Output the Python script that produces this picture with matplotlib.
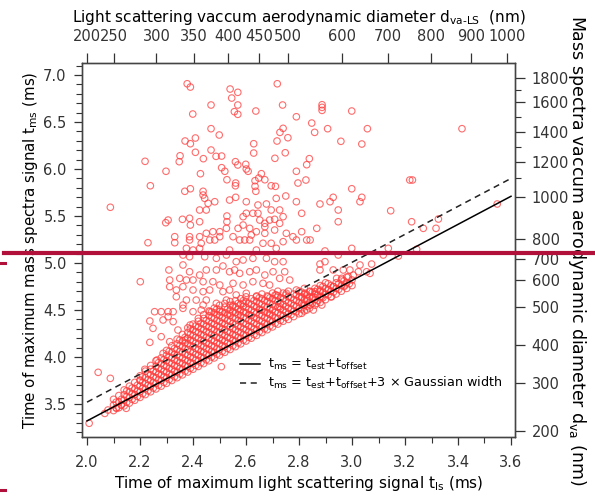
import matplotlib
matplotlib.use('Agg')
import matplotlib.pyplot as plt
from matplotlib.lines import Line2D

plt.rcParams['font.family'] = ['DejaVu Sans']
plt.rcParams['mathtext.default'] = 'regular'

# scattered particles (t_ls, t_ms)
cloud_ls = [2.378, 2.390, 2.540, 2.569, 2.718, 2.546, 2.569, 2.468, 2.738, 2.556, 2.569, 2.637, 2.399, 2.790,
            2.468, 2.499, 2.740, 2.728, 2.758, 2.717, 2.370, 2.390, 2.409, 2.629, 2.629, 2.468, 2.409, 2.487,
            2.508, 2.439, 2.351, 2.348, 2.219, 2.709, 2.748, 2.560, 2.569, 2.599, 2.601, 2.508, 2.520, 2.428,
            2.298, 2.658, 2.608, 2.648, 2.671, 2.634, 2.528, 2.561, 2.560, 2.790, 2.796, 2.695, 2.711, 2.239,
            2.390, 2.369, 2.438, 2.634, 2.637,
            2.887, 2.887, 2.887, 2.999, 2.848, 2.859, 2.908, 3.058, 3.415, 2.958, 3.037, 2.839, 2.829, 2.826,
            3.218, 3.228, 2.999,
            2.088, 2.438, 2.444, 2.538, 2.561, 2.714, 2.750, 2.601, 2.457, 2.482, 2.645, 2.677, 2.790,
            2.425, 2.450, 2.626, 2.645, 2.601, 2.695, 2.727, 2.740, 2.589, 2.528, 2.387, 2.360, 2.306, 2.297,
            2.425, 2.390, 2.528, 2.652, 2.671, 2.689, 2.708, 2.727, 2.589, 2.614, 2.570, 2.526, 2.501, 2.475,
            2.450, 2.425, 2.387, 2.331, 2.331, 2.387, 2.230, 2.671, 2.708, 2.671, 2.639, 2.620, 2.595, 2.614,
            2.576, 2.501, 2.482, 2.463, 2.431, 2.551, 2.664, 2.695, 2.752, 2.777, 2.740, 2.790,
            2.375, 2.400, 2.425, 2.362, 2.387, 2.444, 2.488, 2.526, 2.563, 2.589, 2.626, 2.677, 2.708, 2.740,
            2.538, 2.639, 2.714, 2.309, 2.362, 2.387, 2.425, 2.450, 2.488, 2.513, 2.538, 2.557, 2.576, 2.614,
            2.639, 2.671, 2.702, 2.746, 2.765, 2.727, 2.312, 2.201, 2.350, 2.375, 2.400, 2.438, 2.475, 2.501,
            2.551, 2.589, 2.626, 2.664, 2.689, 2.312, 2.337, 2.362, 2.400, 2.438, 2.463, 2.513, 2.538, 2.563,
            2.601, 2.639, 2.683, 2.714, 2.752, 2.790, 2.337, 2.375, 2.412, 2.450, 2.488, 2.526, 2.551, 2.589,
            2.362, 2.438, 2.255, 2.280, 2.306, 2.325, 2.362, 2.400, 2.431, 2.463, 2.501, 2.538, 2.576, 2.614,
            2.652, 2.689, 2.727,
            2.810, 2.879, 2.917, 2.929, 3.030, 3.037, 2.948, 2.948, 3.146, 2.810, 2.867, 2.829, 2.842, 3.225,
            3.326, 3.269, 3.317, 3.548, 2.999, 2.898, 3.137, 3.244, 3.118, 3.175, 2.948, 2.898, 2.879, 2.879,
            2.929, 2.967, 2.992, 3.030, 3.074, 3.024, 3.055, 3.068, 2.942, 2.961, 2.986, 3.005, 2.974, 2.929,
            2.911, 2.879, 2.860, 2.842, 2.823, 2.886, 2.923, 2.854, 2.829, 2.810, 2.867, 2.842, 2.816, 2.886,
            2.829, 2.854, 2.810,
            2.008, 2.042, 2.088, 2.067, 2.079, 2.111, 2.129, 2.148, 2.237, 2.249, 2.237, 2.280, 2.287, 2.306,
            2.325, 2.312, 2.287, 2.343, 2.370, 2.389, 2.264, 2.218, 2.200, 2.507]
cloud_ms = [6.907, 6.872, 6.851, 6.816, 6.907, 6.755, 6.681, 6.681, 6.681, 6.610, 6.582, 6.617, 6.585, 6.556,
            6.429, 6.362, 6.433, 6.390, 6.333, 6.298, 6.298, 6.269, 6.330, 6.269, 6.170, 6.202, 6.178, 6.135,
            6.138, 6.110, 6.141, 6.078, 6.082, 6.114, 6.173, 6.078, 6.043, 6.050, 6.000, 6.014, 5.976, 5.950,
            5.976, 5.950, 5.976, 5.904, 5.886, 5.876, 5.886, 5.851, 5.822, 5.976, 5.851, 5.822, 5.816, 5.822,
            5.790, 5.763, 5.763, 5.816, 5.763,
            6.684, 6.656, 6.624, 6.617, 6.489, 6.390, 6.429, 6.429, 6.429, 6.295, 6.266, 6.110, 6.046, 5.883,
            5.883, 5.883, 5.790,
            5.593, 5.723, 5.688, 5.670, 5.699, 5.688, 5.713, 5.652, 5.635, 5.652, 5.617, 5.628, 5.652,
            5.564, 5.564, 5.529, 5.529, 5.529, 5.564, 5.564, 5.493, 5.493, 5.500, 5.476, 5.465, 5.457, 5.429,
            5.439, 5.404, 5.439, 5.457, 5.422, 5.457, 5.465, 5.422, 5.404, 5.369, 5.369, 5.369, 5.333, 5.333,
            5.316, 5.280, 5.280, 5.280, 5.216, 5.245, 5.216, 5.386, 5.351, 5.316, 5.333, 5.298, 5.245, 5.245,
            5.245, 5.280, 5.245, 5.245, 5.210, 5.280, 5.210, 5.210, 5.316, 5.280, 5.227, 5.245,
            5.156, 5.138, 5.156, 5.085, 5.067, 5.067, 5.050, 5.085, 5.014, 5.032, 5.050, 5.050, 5.014, 5.014,
            5.138, 5.138, 5.156, 4.926, 4.979, 4.907, 4.872, 4.926, 4.926, 4.968, 4.907, 4.926, 4.890, 4.907,
            4.926, 4.872, 4.907, 4.907, 4.819, 4.837, 4.819, 4.801, 4.837, 4.819, 4.819, 4.801, 4.801, 4.766,
            4.784, 4.766, 4.801, 4.784, 4.766, 4.748, 4.713, 4.748, 4.713, 4.695, 4.713, 4.695, 4.713, 4.660,
            4.678, 4.641, 4.641, 4.660, 4.678, 4.713, 4.641, 4.606, 4.606, 4.606, 4.571, 4.606, 4.553, 4.571,
            4.553, 4.553, 4.482, 4.482, 4.482, 4.482, 4.518, 4.482, 4.500, 4.482, 4.482, 4.465, 4.482, 4.447,
            4.500, 4.465, 4.535,
            5.529, 5.628, 5.652, 5.699, 5.652, 5.699, 5.564, 5.439, 5.556, 5.333, 5.369, 5.245, 5.245, 5.439,
            5.468, 5.369, 5.369, 5.628, 5.156, 5.128, 5.156, 5.146, 5.085, 5.074, 5.085, 5.014, 4.989, 4.926,
            4.926, 4.926, 4.926, 4.979, 4.989, 4.907, 4.907, 4.890, 4.837, 4.837, 4.854, 4.872, 4.766, 4.748,
            4.713, 4.713, 4.695, 4.695, 4.678, 4.641, 4.641, 4.641, 4.624, 4.641, 4.571, 4.553, 4.553, 4.553,
            4.500, 4.500, 4.465,
            3.295, 3.837, 3.773, 3.400, 3.436, 3.454, 3.489, 3.454, 4.383, 4.305, 4.156, 4.216, 4.394, 4.429,
            4.376, 4.163, 4.039, 4.287, 4.181, 4.340, 3.968, 3.869, 3.755, 3.897]

# the dense band just above the fit line: one column per t_ls value
band_cols = [
    (2.10, [3.43, 3.49, 3.55]),
    (2.11, [3.46, 3.52]),
    (2.12, [3.46, 3.52, 3.59]),
    (2.13, [3.49, 3.55]),
    (2.14, [3.48, 3.54, 3.60, 3.65]),
    (2.15, [3.52, 3.58, 3.64]),
    (2.16, [3.51, 3.57, 3.63, 3.69]),
    (2.17, [3.55, 3.61, 3.67]),
    (2.18, [3.54, 3.60, 3.66, 3.73]),
    (2.19, [3.58, 3.64, 3.70]),
    (2.20, [3.57, 3.63, 3.69, 3.75, 3.80]),
    (2.21, [3.61, 3.67, 3.73, 3.79]),
    (2.22, [3.60, 3.66, 3.72, 3.78, 3.85]),
    (2.23, [3.64, 3.70, 3.76, 3.82]),
    (2.24, [3.63, 3.69, 3.75, 3.81, 3.87, 3.91]),
    (2.25, [3.67, 3.73, 3.79, 3.85]),
    (2.26, [3.66, 3.72, 3.78, 3.84, 3.90, 3.96]),
    (2.27, [3.70, 3.76, 3.82, 3.88, 3.94]),
    (2.28, [3.69, 3.75, 3.81, 3.87, 3.93, 3.99]),
    (2.29, [3.73, 3.79, 3.85, 3.91, 3.97]),
    (2.30, [3.72, 3.78, 3.84, 3.90, 3.96, 4.02, 4.07]),
    (2.31, [3.76, 3.82, 3.88, 3.94, 4.00, 4.06]),
    (2.32, [3.75, 3.81, 3.87, 3.93, 3.99, 4.05, 4.12]),
    (2.33, [3.79, 3.85, 3.91, 3.97, 4.03, 4.09]),
    (2.34, [3.78, 3.84, 3.90, 3.96, 4.02, 4.08, 4.14, 4.19]),
    (2.35, [3.82, 3.88, 3.94, 4.00, 4.06, 4.12, 4.18]),
    (2.36, [3.81, 3.87, 3.93, 3.99, 4.05, 4.11, 4.17, 4.24]),
    (2.37, [3.85, 3.91, 3.97, 4.03, 4.09, 4.15, 4.21]),
    (2.38, [3.84, 3.90, 3.96, 4.02, 4.08, 4.14, 4.20, 4.26, 4.31]),
    (2.39, [3.88, 3.94, 4.00, 4.06, 4.12, 4.18, 4.24, 4.30]),
    (2.40, [3.87, 3.93, 3.99, 4.05, 4.11, 4.17, 4.23, 4.29, 4.35]),
    (2.41, [3.91, 3.97, 4.03, 4.09, 4.15, 4.21, 4.27, 4.33]),
    (2.42, [3.90, 3.96, 4.02, 4.08, 4.14, 4.20, 4.26, 4.32, 4.38, 4.41]),
    (2.43, [3.94, 4.00, 4.06, 4.12, 4.18, 4.24, 4.30, 4.36]),
    (2.44, [3.93, 3.99, 4.05, 4.11, 4.17, 4.23, 4.29, 4.35, 4.41, 4.45]),
    (2.45, [3.97, 4.03, 4.09, 4.15, 4.21, 4.27, 4.33, 4.39]),
    (2.46, [3.96, 4.02, 4.08, 4.14, 4.20, 4.26, 4.32, 4.38, 4.44, 4.49]),
    (2.47, [4.00, 4.06, 4.12, 4.18, 4.24, 4.30, 4.36, 4.42, 4.48]),
    (2.48, [3.99, 4.05, 4.11, 4.17, 4.23, 4.29, 4.35, 4.41, 4.47, 4.52]),
    (2.49, [4.03, 4.09, 4.15, 4.21, 4.27, 4.33, 4.39, 4.45, 4.51]),
    (2.50, [4.02, 4.08, 4.14, 4.20, 4.26, 4.32, 4.38, 4.44, 4.50, 4.55]),
    (2.51, [4.06, 4.12, 4.18, 4.24, 4.30, 4.36, 4.42, 4.48]),
    (2.52, [4.05, 4.11, 4.17, 4.23, 4.29, 4.35, 4.41, 4.47, 4.53, 4.57]),
    (2.53, [4.09, 4.15, 4.21, 4.27, 4.33, 4.39, 4.45, 4.51]),
    (2.54, [4.08, 4.14, 4.20, 4.26, 4.32, 4.38, 4.44, 4.50, 4.55, 4.59]),
    (2.55, [4.12, 4.18, 4.24, 4.30, 4.36, 4.42, 4.48, 4.54]),
    (2.56, [4.11, 4.17, 4.23, 4.29, 4.35, 4.41, 4.47, 4.53, 4.60]),
    (2.57, [4.15, 4.21, 4.27, 4.33, 4.39, 4.45, 4.51, 4.57]),
    (2.58, [4.14, 4.20, 4.26, 4.32, 4.38, 4.44, 4.50, 4.56, 4.62]),
    (2.59, [4.18, 4.24, 4.30, 4.36, 4.42, 4.48, 4.54, 4.60]),
    (2.60, [4.17, 4.23, 4.29, 4.35, 4.41, 4.47, 4.53, 4.59, 4.64]),
    (2.61, [4.21, 4.27, 4.33, 4.39, 4.45, 4.51, 4.57]),
    (2.62, [4.20, 4.26, 4.32, 4.38, 4.44, 4.50, 4.56, 4.62]),
    (2.63, [4.24, 4.30, 4.36, 4.42, 4.48, 4.54, 4.60]),
    (2.64, [4.23, 4.29, 4.35, 4.41, 4.47, 4.53, 4.59, 4.65]),
    (2.65, [4.27, 4.33, 4.39, 4.45, 4.51, 4.57, 4.63]),
    (2.66, [4.26, 4.32, 4.38, 4.44, 4.50, 4.56, 4.62, 4.67]),
    (2.67, [4.30, 4.36, 4.42, 4.48, 4.54, 4.60]),
    (2.68, [4.29, 4.35, 4.41, 4.47, 4.53, 4.59, 4.65]),
    (2.69, [4.33, 4.39, 4.45, 4.51, 4.57, 4.63]),
    (2.70, [4.32, 4.38, 4.44, 4.50, 4.56, 4.62, 4.68]),
    (2.71, [4.36, 4.42, 4.48, 4.54, 4.60, 4.66]),
    (2.72, [4.35, 4.41, 4.47, 4.53, 4.59, 4.65, 4.70]),
    (2.73, [4.39, 4.45, 4.51, 4.57, 4.63]),
    (2.74, [4.38, 4.44, 4.50, 4.56, 4.62, 4.68]),
    (2.75, [4.42, 4.48, 4.54, 4.60, 4.66]),
    (2.76, [4.40, 4.46, 4.52, 4.58, 4.64, 4.70]),
    (2.77, [4.45, 4.51, 4.57, 4.63]),
    (2.78, [4.43, 4.49, 4.55, 4.61, 4.67]),
    (2.79, [4.48, 4.54, 4.60, 4.66]),
    (2.80, [4.46, 4.52, 4.58, 4.64, 4.70]),
    (2.81, [4.51, 4.57, 4.63, 4.69]),
    (2.82, [4.49, 4.55, 4.61, 4.67, 4.73]),
    (2.83, [4.54, 4.60, 4.66]),
    (2.84, [4.52, 4.58, 4.64, 4.70]),
    (2.85, [4.57, 4.63, 4.69]),
    (2.86, [4.55, 4.61, 4.67, 4.73]),
    (2.87, [4.60, 4.66, 4.72]),
    (2.88, [4.58, 4.64, 4.70, 4.76]),
    (2.89, [4.63, 4.69, 4.75]),
    (2.90, [4.61, 4.67, 4.73, 4.79]),
    (2.91, [4.66, 4.72, 4.78]),
    (2.92, [4.64, 4.70, 4.76]),
    (2.93, [4.69, 4.75]),
    (2.94, [4.67, 4.73, 4.79]),
    (2.95, [4.72, 4.78]),
    (2.96, [4.70, 4.76, 4.82]),
    (2.97, [4.75, 4.81]),
    (2.98, [4.73, 4.79, 4.85]),
    (2.99, [4.78]),
    (3.00, [4.76, 4.82]),
]

# fitted lines (end points)
fit_ls = [2.0, 3.6]
fit_ms = [3.32, 5.71]
fit_ms_3sig = [3.52, 5.90]

# secondary axes: diameter labels and where they sit on the time axes
top_d = [200, 250, 300, 350, 400, 450, 500, 600, 700, 800, 900, 1000]
top_t = [2.0, 2.100, 2.262, 2.402, 2.532, 2.649, 2.757, 2.962, 3.137, 3.298, 3.448, 3.584]
right_d = [200, 300, 400, 500, 600, 700, 800, 1000, 1200, 1400, 1600, 1800]
right_t = [3.213, 3.720, 4.128, 4.535, 4.819, 5.039, 5.252, 5.705, 6.078, 6.397, 6.709, 6.965]
right_minor_t = [5.901, 6.237, 6.556, 6.840]

band_ls = []
band_ms = []
for xv, ys in band_cols:
    for yv in ys:
        band_ls.append(xv)
        band_ms.append(yv)

fig = plt.figure(figsize=(5.95, 4.98), dpi=100)
ax = fig.add_axes([0.1378, 0.1225, 0.7277, 0.751])

dot = dict(s=22, facecolors='none', edgecolors='#ff3c3c', linewidths=0.8, alpha=0.75)
ax.scatter(band_ls, band_ms, **dot)
ax.scatter(cloud_ls, cloud_ms, **dot)

ax.plot(fit_ls, fit_ms, color='black', lw=1.1, label=r'$t_{ms}$ = $t_{est}$+$t_{offset}$')
ax.plot(fit_ls, fit_ms_3sig, color='#222222', lw=1.1, ls=(0, (4, 3)),
        label=r'$t_{ms}$ = $t_{est}$+$t_{offset}$+3 × Gaussian width')

ax.set_xlim(1.981, 3.615)
ax.set_ylim(3.149, 7.128)
ax.set_xticks([2.0, 2.2, 2.4, 2.6, 2.8, 3.0, 3.2, 3.4, 3.6])
ax.set_xticks([2.1, 2.3, 2.5, 2.7, 2.9, 3.1, 3.3, 3.5], minor=True)
ax.set_yticks([3.5, 4.0, 4.5, 5.0, 5.5, 6.0, 6.5, 7.0])
ax.set_yticks([3.2, 3.3, 3.4, 3.6, 3.7, 3.8, 3.9, 4.1, 4.2, 4.3, 4.4, 4.6, 4.7, 4.8, 4.9,
               5.1, 5.2, 5.3, 5.4, 5.6, 5.7, 5.8, 5.9, 6.1, 6.2, 6.3, 6.4, 6.6, 6.7, 6.8, 6.9, 7.1],
              minor=True)
ax.tick_params(which='major', direction='out', length=6, width=0.9, colors='#333333', labelsize=10.5, pad=5)
ax.tick_params(which='minor', direction='out', length=4, width=0.8, color='#333333')
ax.tick_params(axis='x', which='major', pad=7)
ax.set_xlabel('Time of maximum light scattering signal $t_{ls}$ (ms)', fontsize=11, labelpad=3)
ax.set_ylabel('Time of maximum mass spectra signal $t_{ms}$ (ms)', fontsize=10.8, labelpad=2)
for sp in ax.spines.values():
    sp.set_color('#444444')
    sp.set_linewidth(0.9)

ax.legend(loc='upper left', bbox_to_anchor=(0.35, 0.23), frameon=False, fontsize=9.2,
          handlelength=1.6, handletextpad=0.6, borderpad=0, labelspacing=0.2)

ax_top = ax.twiny()
ax_top.set_xlim(ax.get_xlim())
ax_top.set_xticks(top_t)
ax_top.set_xticklabels([str(v) for v in top_d])
ax_top.tick_params(direction='out', length=7, width=0.9, colors='#333333', labelsize=10.5, pad=7)
ax_top.set_xlabel('Light scattering vaccum aerodynamic diameter $d_{va\u2010LS}$  (nm)', fontsize=11,
                  labelpad=5)

ax_r = ax.twinx()
ax_r.set_ylim(ax.get_ylim())
ax_r.set_yticks(right_t)
ax_r.set_yticklabels([str(v) for v in right_d])
ax_r.set_yticks(right_minor_t, minor=True)
ax_r.tick_params(which='major', direction='out', length=7, width=0.9, colors='#333333', labelsize=10.5, pad=5)
ax_r.tick_params(which='minor', direction='out', length=4, width=0.8, color='#333333')
ax_r.set_ylabel('Mass spectra vaccum aerodynamic diameter $d_{va}$ (nm)', fontsize=12.5,
                rotation=-90, labelpad=14)
for a in (ax_top, ax_r):
    for sp in a.spines.values():
        sp.set_color('#444444')
        sp.set_linewidth(0.9)

# crimson marker line drawn over the figure
fig.add_artist(Line2D([4 / 595, 1.0], [1 - 253 / 498, 1 - 253 / 498], transform=fig.transFigure,
                      color='#b0103a', lw=3))
fig.add_artist(Line2D([0, 5 / 595], [1 - 263 / 498, 1 - 263 / 498], transform=fig.transFigure,
                      color='#b0103a', lw=2.2))
fig.add_artist(Line2D([0, 5 / 595], [1 - 490 / 498, 1 - 490 / 498], transform=fig.transFigure,
                      color='#b0103a', lw=2.2))

fig.savefig('out.png', dpi=100)
